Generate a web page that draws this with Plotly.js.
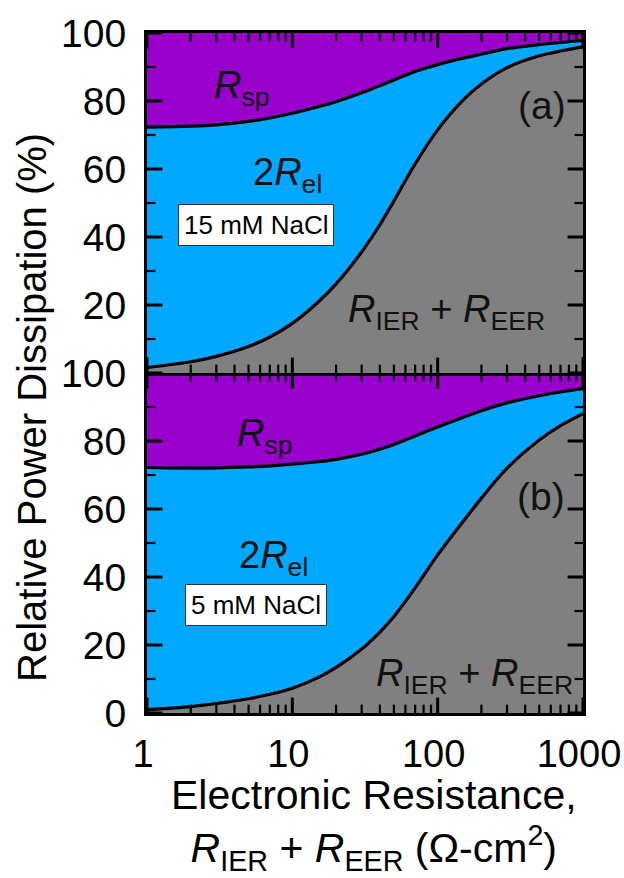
<!DOCTYPE html>
<html>
<head>
<meta charset="utf-8">
<script src="https://cdn.plot.ly/plotly-3.0.1.min.js"></script>
<style>html,body{margin:0;padding:0;background:#fff;}#chart{width:624px;height:878px;}</style>
</head>
<body>
<div id="chart"></div>
<script>
// Electronic resistance R_IER + R_EER (Ohm-cm2)
const resistance = [1, 2, 3, 5, 7, 10, 15, 20, 30, 40, 50, 70, 100, 150, 200, 300, 500, 700, 1000];
// Panel (a) 15 mM NaCl: cumulative boundaries (%)
const a_ierEer = [1.6, 3.3, 4.9, 7.8, 10.6, 14.6, 20.8, 26.2, 35.6, 43.6, 50.6, 61.5, 71.5, 80.3, 85.0, 89.8, 93.3, 94.7, 95.9];
const a_plusEl = [72.3, 72.6, 73.0, 74.0, 75.0, 76.4, 78.3, 79.8, 82.4, 84.5, 86.2, 88.7, 90.7, 92.6, 93.8, 95.4, 96.6, 97.2, 97.8];
// Panel (b) 5 mM NaCl
const b_ierEer = [1.0, 1.9, 2.8, 4.2, 5.5, 7.3, 10.4, 13.4, 18.8, 23.8, 28.4, 36.8, 46.5, 56.4, 63.2, 72.0, 80.3, 84.5, 88.0];
const b_plusEl = [72.2, 72.0, 72.1, 72.4, 72.7, 73.2, 73.9, 74.6, 76.1, 77.6, 79.0, 81.5, 84.1, 87.0, 88.9, 91.2, 93.3, 94.4, 95.4];
const total = resistance.map(() => 100);

// axis ranges and tick values
const xRange = [1, 1000];
const yRange = [0, 100];
const xMajor = [1, 10, 100, 1000];
const xMajorText = ['1', '10', '100', '1000'];
const xMinor = [2,3,4,5,6,7,8,9,20,30,40,50,60,70,80,90,200,300,400,500,600,700,800,900];
const yMajor = [0, 20, 40, 60, 80, 100];
const yMinor = [10, 30, 50, 70, 90];
const yTicksA = [20, 40, 60, 80, 100];

const GRAY = '#808080', BLUE = '#00A8FF', PURPLE = '#9900CC';
const FONT = 'Liberation Sans, Arial, Helvetica, sans-serif';

function panel(lower, upper, xa, ya) {
  return [
    {x: resistance, y: lower, xaxis: xa, yaxis: ya, mode: 'lines', fill: 'tozeroy', fillcolor: GRAY,
     line: {color: '#000', width: 3.2, shape: 'spline', smoothing: 0.8}, hoverinfo: 'skip'},
    {x: resistance, y: upper, xaxis: xa, yaxis: ya, mode: 'lines', fill: 'tonexty', fillcolor: BLUE,
     line: {color: '#000', width: 3.2, shape: 'spline', smoothing: 0.8}, hoverinfo: 'skip'},
    {x: resistance, y: total, xaxis: xa, yaxis: ya, mode: 'lines', fill: 'tonexty', fillcolor: PURPLE,
     line: {color: PURPLE, width: 0}, hoverinfo: 'skip'}
  ];
}

// inside tick marks drawn as clipped line markers on the frame edges (half of each marker lies inside)
function tickTrace(xs, ys, symbol, size, width, xa, ya) {
  return {x: xs, y: ys, xaxis: xa, yaxis: ya, mode: 'markers', cliponaxis: true, hoverinfo: 'skip',
          marker: {symbol: symbol, size: size, color: '#000', line: {color: '#000', width: width}}};
}
function edgeX(vals) { // x ticks on bottom and top edges
  return {x: vals.concat(vals), y: vals.map(() => yRange[0]).concat(vals.map(() => yRange[1]))};
}
function edgeY(vals) { // y ticks on left and right edges
  return {x: vals.map(() => xRange[0]).concat(vals.map(() => xRange[1])), y: vals.concat(vals)};
}
function ticks(xa, ya) {
  const xM = edgeX(xMajor), xm = edgeX(xMinor), yM = edgeY(yMajor), ym = edgeY(yMinor);
  return [
    tickTrace(xM.x, xM.y, 'line-ns', 22, 3, xa, ya),
    tickTrace(xm.x, xm.y, 'line-ns', 12, 2.2, xa, ya),
    tickTrace(yM.x, yM.y, 'line-ew', 22, 3, xa, ya),
    tickTrace(ym.x, ym.y, 'line-ew', 12, 2.2, xa, ya)
  ];
}

const data = [].concat(
  panel(a_ierEer, a_plusEl, 'x2', 'y'), panel(b_ierEer, b_plusEl, 'x', 'y2'),
  ticks('x2', 'y'), ticks('x', 'y2'));

const xBase = {
  type: 'log', range: [Math.log10(xRange[0]), Math.log10(xRange[1])], tickmode: 'array', tickvals: xMajor, ticktext: xMajorText,
  ticks: '', showline: true, linecolor: '#000', linewidth: 3, mirror: true, showgrid: false, zeroline: false,
  ticklabeloverflow: 'allow', ticklabelstandoff: 5, ticklabelshift: -4,
  tickfont: {family: FONT, size: 38, color: '#000'}
};
const yBase = {
  range: yRange, tickmode: 'array', ticks: '',
  showline: true, linecolor: '#000', linewidth: 3, mirror: true, showgrid: false, zeroline: false,
  ticklabelstandoff: 10,
  tickfont: {family: FONT, size: 39, color: '#000'}
};

function ann(text, x, y, size, extra) {
  return Object.assign({text: text, x: x, y: y, xref: 'paper', yref: 'paper', showarrow: false,
    font: {family: FONT, size: size, color: '#111'}, xanchor: 'center', yanchor: 'middle'}, extra || {});
}
const boxStyle = {bgcolor: '#fff', bordercolor: '#333', borderwidth: 1, borderpad: 5, font: {family: FONT, size: 26, color: '#000'}};

const layout = {
  width: 624, height: 878,
  margin: {l: 147, r: 41, t: 33, b: 165},
  paper_bgcolor: '#fff', plot_bgcolor: '#fff', showlegend: false,
  xaxis: Object.assign({}, xBase, {domain: [0, 1], anchor: 'y2'}),
  xaxis2: Object.assign({}, xBase, {domain: [0, 1], anchor: 'y', matches: 'x', showticklabels: false}),
  yaxis: Object.assign({}, yBase, {domain: [0.5, 1], anchor: 'x2', tickvals: yTicksA}),
  yaxis2: Object.assign({}, yBase, {domain: [0, 0.5], anchor: 'x', tickvals: yMajor}),
  annotations: [
    ann('Relative Power Dissipation (%)', -0.264, 0.45, 40, {textangle: -90, font: {family: FONT, size: 40, color: '#000'}}),
    ann('Electronic Resistance,<br><i>R</i><sub>IER</sub> + <i>R</i><sub>EER</sub> (Ω-cm<sup>2</sup>)', 0.521, -0.164, 41,
        {font: {family: FONT, size: 41, color: '#000'}}),
    ann('<i>R</i><sub>sp</sub>', 0.218, 0.919, 38),
    ann('2<i>R</i><sub>el</sub>', 0.323, 0.791, 38),
    ann('15 mM NaCl', 0.25, 0.718, 26, boxStyle),
    ann('(a)', 0.906, 0.893, 39),
    ann('<i>R</i><sub>IER</sub> + <i>R</i><sub>EER</sub>', 0.688, 0.590, 38),
    ann('<i>R</i><sub>sp</sub>', 0.271, 0.407, 38),
    ann('2<i>R</i><sub>el</sub>', 0.289, 0.228, 38),
    ann('5 mM NaCl', 0.25, 0.159, 26, boxStyle),
    ann('(b)', 0.904, 0.319, 39),
    ann('<i>R</i><sub>IER</sub> + <i>R</i><sub>EER</sub>', 0.752, 0.054, 38)
  ]
};

Plotly.newPlot('chart', data, layout, {staticPlot: true, displayModeBar: false});
</script>
</body>
</html>
